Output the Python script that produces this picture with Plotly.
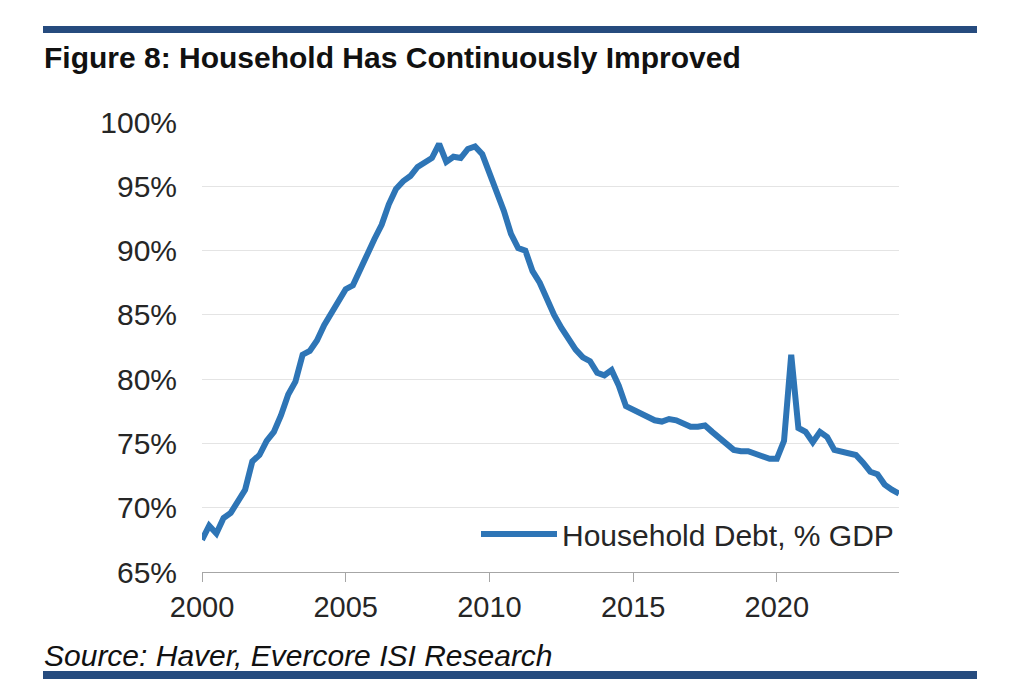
import plotly.graph_objects as go

# Quarterly categories: 1999Q4 .. 2024Q1 (plotted at quarter end)
quarters = [f"{y}Q{q}" for y in range(1999, 2025) for q in range(1, 5)]
quarters = quarters[quarters.index("1999Q4"):quarters.index("2024Q1") + 1]

household_debt_pct_gdp = [
    67.5, 68.6, 68.0, 69.2, 69.6, 70.5, 71.4, 73.6, 74.1, 75.2,
    75.9, 77.2, 78.8, 79.8, 81.9, 82.2, 83.0, 84.2, 85.2, 86.0,
    87.0, 87.3, 88.6, 89.7, 90.9, 92.0, 93.6, 94.8, 95.4, 95.8,
    96.5, 96.9, 97.2, 98.3, 96.9, 97.3, 97.2, 97.9, 98.1, 97.5,
    96.0, 94.7, 93.1, 91.3, 90.2, 90.0, 88.4, 87.5, 86.2, 85.0,
    84.0, 83.1, 82.3, 81.7, 81.4, 80.5, 80.3, 80.7, 79.5, 77.9,
    77.6, 77.3, 77.0, 76.8, 76.7, 76.9, 76.8, 76.6, 76.3, 76.3,
    76.4, 75.9, 75.4, 74.9, 74.5, 74.4, 74.4, 74.2, 74.0, 73.8,
    73.8, 75.2, 81.9, 76.2, 75.9, 75.1, 75.9, 75.5, 74.5, 74.4,
    74.3, 74.1, 73.5, 72.8, 72.6, 71.8, 71.4, 71.1,
]

x_ticks = [2000, 2005, 2010, 2015, 2020]
y_ticks = [65, 70, 75, 80, 85, 90, 95, 100]
y_tick_labels = [f"{v}%" for v in y_ticks]

title_text = "Figure 8: Household Has Continuously Improved"
source_text = "Source: Haver, Evercore ISI Research"
series_name = "Household Debt, % GDP"

# quarter-end position in fractional years
x_pos = [int(s[:4]) + int(s[-1]) / 4 for s in quarters]

FONT = "Liberation Sans, Arial, Helvetica, sans-serif"
LINE_BLUE = "#2e75b6"
NAVY = "#264b7e"
TXT = "#262626"

# page has an 8px body margin: target pixel p -> figure coordinate p - OFF
OFF = 8
W, H = 1008, 674
L, R, T, B = 202 - OFF, 899 - OFF, 122 - OFF, 572 - OFF

def px(xp):
    return (xp - OFF - L) / (R - L)

def py(yp):
    return (B - (yp - OFF)) / (B - T)

fig = go.Figure()
fig.add_trace(go.Scatter(
    x=x_pos, y=household_debt_pct_gdp, mode="lines", name=series_name,
    line=dict(color=LINE_BLUE, width=6),
    customdata=quarters,
    hovertemplate="%{customdata}: %{y:.1f}%<extra></extra>",
))

shapes = [
    dict(type="rect", xref="paper", yref="paper", x0=px(43), x1=px(977),
         y0=py(33), y1=py(26), fillcolor=NAVY, line=dict(width=0), layer="above"),
    dict(type="rect", xref="paper", yref="paper", x0=px(43), x1=px(977),
         y0=py(679), y1=py(671), fillcolor=NAVY, line=dict(width=0), layer="above"),
    # extension of the legend sample line so it is as long as the reference
    dict(type="line", xref="paper", yref="paper", x0=px(481), x1=px(535),
         y0=py(534), y1=py(534), line=dict(color=LINE_BLUE, width=6),
         layer="above"),
]

annotations = [
    dict(text=f"<i>{source_text}</i>", xref="paper", yref="paper",
         x=px(42), y=py(655), xanchor="left", yanchor="middle", showarrow=False,
         font=dict(family=FONT, size=30, color="#111111")),
]

fig.update_layout(
    width=W, height=H,
    margin=dict(l=L, r=W - R, t=T, b=H - B),
    paper_bgcolor="white", plot_bgcolor="white",
    title=dict(text=f"<b>{title_text}</b>", xref="container", yref="container",
               x=(44 - OFF) / W, xanchor="left", y=1 - (57 - OFF) / H, yanchor="middle",
               font=dict(family=FONT, size=30, color="#111111")),
    font=dict(family=FONT, size=28, color=TXT),
    showlegend=True,
    legend=dict(x=px(522), y=py(534), xanchor="left", yanchor="middle",
                bgcolor="rgba(0,0,0,0)", borderwidth=0,
                font=dict(family=FONT, size=30, color=TXT)),
    shapes=shapes,
    annotations=annotations,
    xaxis=dict(range=[2000, 2024.25], tickvals=x_ticks, ticktext=[str(v) for v in x_ticks],
               showgrid=False, zeroline=False, showline=True, linecolor="#a6a6a6",
               linewidth=1.3, ticks="outside", ticklen=9, tickcolor="#a6a6a6",
               tickwidth=1.3, ticklabelstandoff=0,
               tickfont=dict(family=FONT, size=29, color=TXT)),
    yaxis=dict(range=[65, 100], tickvals=y_ticks, ticktext=y_tick_labels,
               showgrid=True, gridcolor="#e4e4e4", gridwidth=1, zeroline=False,
               showline=False, ticks="", ticklabelstandoff=24,
               tickfont=dict(family=FONT, size=30, color=TXT)),
)

fig.write_html("out.html")
